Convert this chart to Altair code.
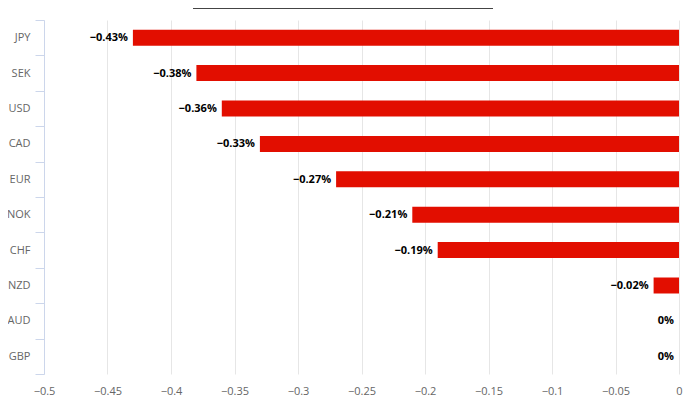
import altair as alt
import pandas as pd

currencies = ["JPY", "SEK", "USD", "CAD", "EUR", "NOK", "CHF", "NZD", "AUD", "GBP"]
changes = [-0.43, -0.38, -0.36, -0.33, -0.27, -0.21, -0.19, -0.02, 0.0, 0.0]
x_ticks = [-0.5, -0.45, -0.4, -0.35, -0.3, -0.25, -0.2, -0.15, -0.1, -0.05, 0]

df = pd.DataFrame({"currency": currencies, "change": changes})

FONT = "Open Sans"

base = alt.Chart(df).transform_calculate(
    label="format(datum.change, '.2~f') + '%'"
)

y_enc = alt.Y(
    "currency:N",
    sort=currencies,
    title=None,
    scale=alt.Scale(paddingInner=0.0, paddingOuter=0.0),
    axis=alt.Axis(
        tickBand="extent",
        tickSize=9,
        tickColor="#ccd6eb",
        domainColor="#ccd6eb",
        labelColor="#666666",
        labelFont=FONT,
        labelFontSize=11,
        labelPadding=5,
        grid=False,
    ),
)

x_enc = alt.X(
    "change:Q",
    title=None,
    scale=alt.Scale(domain=[-0.5, 0], nice=False, zero=False),
    axis=alt.Axis(
        values=x_ticks,
        format="~g",
        domain=False,
        ticks=False,
        grid=True,
        gridColor="#e6e6e6",
        labelColor="#666666",
        labelFont=FONT,
        labelFontSize=11,
        labelPadding=11,
        labelFlush=False,
    ),
)

bars = base.mark_bar(color="#e20e00", size=16).encode(
    y=y_enc,
    x=x_enc,
    x2=alt.datum(0),
)

labels = base.mark_text(
    align="right",
    baseline="middle",
    dx=-5,
    dy=0.5,
    font=FONT,
    fontSize=11,
    fontWeight="bold",
    color="#000000",
).encode(
    y=alt.Y("currency:N", sort=currencies),
    x=alt.X("change:Q"),
    text="label:N",
)

top_line = alt.Chart(pd.DataFrame({"a": [0]})).mark_rule(
    color="#444444", strokeWidth=1
).encode(
    x=alt.value(149),
    x2=alt.value(449),
    y=alt.value(-11.5),
)

chart = alt.layer(bars, labels, top_line).properties(
    width=635,
    height=354,
    autosize=alt.AutoSizeParams(type="none"),
    padding={"left": 36, "top": 12, "right": 5, "bottom": 30},
).configure_view(stroke=None)

chart.save("out.html", embed_options={"renderer": "svg", "actions": False})
